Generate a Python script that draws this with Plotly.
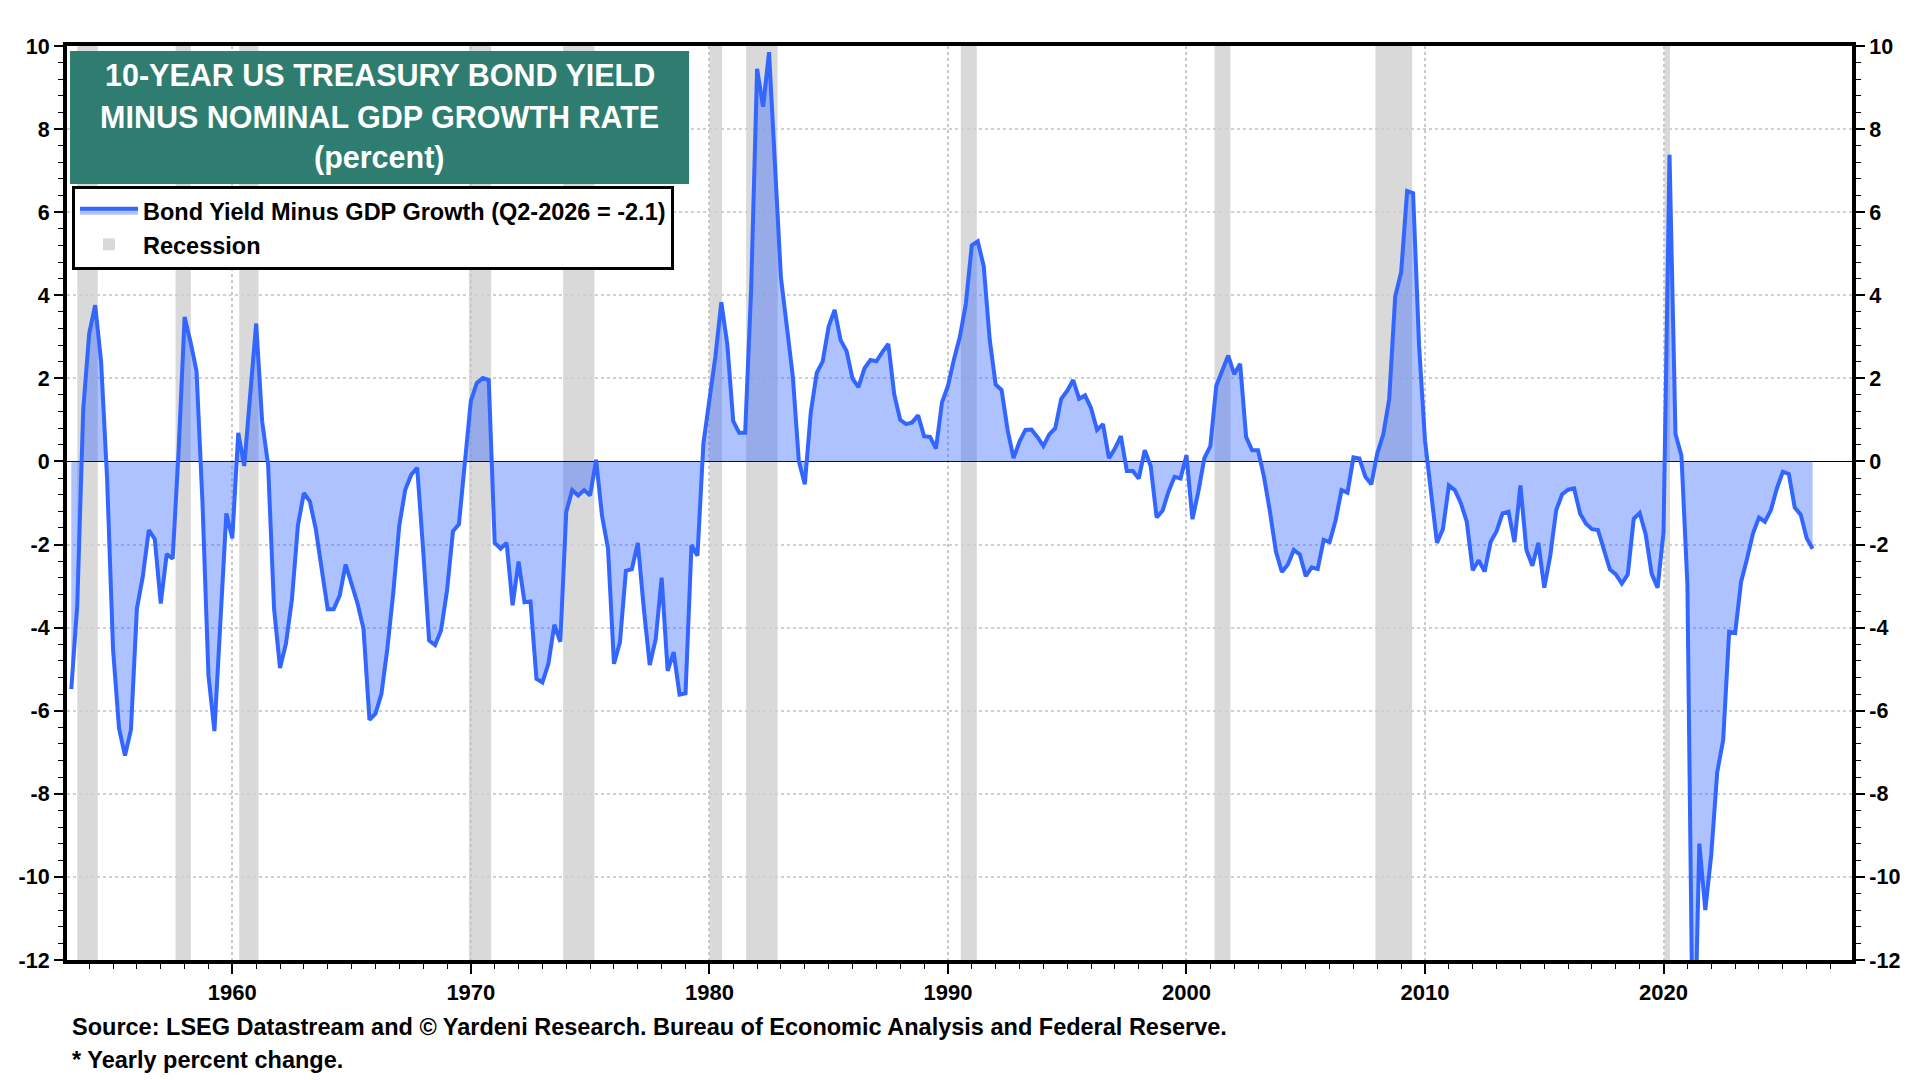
import numpy as np
import pandas as pd
import plotly.graph_objects as go

# quarterly spread, 10-yr Treasury yield minus nominal GDP y/y growth
first_quarter = "1953Q2"
spread = [
    -5.48, -3.46, 1.25,            # 1953 Q2-Q4
    3.08, 3.76, 2.40, -0.40,       # 1954
    -4.52, -6.42, -7.08, -6.46,    # 1955
    -3.54, -2.76, -1.65, -1.87,    # 1956
    -3.42, -2.23, -2.34, 0.27,     # 1957
    3.48, 2.87, 2.17, -1.00,       # 1958
    -5.15, -6.49, -3.82, -1.25,    # 1959
    -1.85, 0.69, -0.11, 1.54,      # 1960
    3.32, 0.97, -0.08, -3.54,      # 1961
    -4.97, -4.38, -3.32, -1.54,    # 1962
    -0.76, -0.96, -1.63, -2.60,    # 1963
    -3.56, -3.56, -3.23, -2.48,    # 1964
    -2.97, -3.42, -4.03, -6.22,    # 1965
    -6.07, -5.60, -4.50, -3.15,    # 1966
    -1.54, -0.68, -0.32, -0.15,    # 1967
    -2.13, -4.31, -4.42, -4.07,    # 1968
    -3.11, -1.68, -1.51, 0.00,     # 1969
    1.46, 1.89, 2.01, 1.96,        # 1970
    -1.96, -2.10, -1.96, -3.46,    # 1971
    -2.41, -3.39, -3.37, -5.23,    # 1972
    -5.32, -4.87, -3.93, -4.34,    # 1973
    -1.21, -0.69, -0.82, -0.69,    # 1974
    -0.82, 0.04, -1.31, -2.10,     # 1975
    -4.87, -4.35, -2.63, -2.59,    # 1976
    -1.96, -3.54, -4.90, -4.27,    # 1977
    -2.80, -5.04, -4.59, -5.61,    # 1978
    -5.58, -2.01, -2.27, 0.44,     # 1979
    1.54, 2.52, 3.83, 2.82,        # 1980
    0.97, 0.69, 0.69, 4.14,        # 1981
    9.45, 8.54, 9.85, 7.03,        # 1982
    4.42, 3.23, 2.03, 0.01,        # 1983
    -0.55, 1.18, 2.13, 2.41,       # 1984
    3.25, 3.65, 2.92, 2.66,        # 1985
    1.99, 1.79, 2.24, 2.44,        # 1986
    2.41, 2.63, 2.83, 1.61,        # 1987
    1.00, 0.90, 0.94, 1.11,        # 1988
    0.61, 0.59, 0.31, 1.42,        # 1989
    1.82, 2.45, 3.00, 3.79,        # 1990
    5.20, 5.30, 4.70, 2.94,        # 1991
    1.85, 1.72, 0.76, 0.08,        # 1992
    0.48, 0.76, 0.77, 0.59,        # 1993
    0.37, 0.65, 0.80, 1.51,        # 1994
    1.70, 1.96, 1.51, 1.59,        # 1995
    1.28, 0.76, 0.90, 0.08,        # 1996
    0.31, 0.61, -0.23, -0.23,      # 1997
    -0.41, 0.27, -0.11, -1.35,     # 1998
    -1.18, -0.72, -0.37, -0.41,    # 1999
    0.15, -1.39, -0.72, 0.08,      # 2000
    0.37, 1.82, 2.20, 2.55,        # 2001
    2.10, 2.35, 0.59, 0.27,        # 2002
    0.27, -0.37, -1.21, -2.17,     # 2003
    -2.66, -2.48, -2.13, -2.24,    # 2004
    -2.76, -2.55, -2.59, -1.89,    # 2005
    -1.94, -1.42, -0.69, -0.75,    # 2006
    0.10, 0.07, -0.37, -0.55,      # 2007
    0.20, 0.65, 1.51, 3.97,        # 2008
    4.56, 6.51, 6.46, 2.80,        # 2009
    0.50, -0.80, -1.96, -1.63,     # 2010
    -0.58, -0.69, -1.00, -1.45,    # 2011
    -2.62, -2.38, -2.65, -1.94,    # 2012
    -1.68, -1.25, -1.21, -1.94,    # 2013
    -0.58, -2.13, -2.51, -1.96,    # 2014
    -3.04, -2.27, -1.17, -0.79,    # 2015
    -0.68, -0.65, -1.25, -1.50,    # 2016
    -1.63, -1.65, -2.10, -2.60,    # 2017
    -2.72, -2.94, -2.72, -1.38,    # 2018
    -1.24, -1.75, -2.70, -3.04,    # 2019
    -1.70, 7.38, 0.66, 0.14,       # 2020
    -2.97, -15.50, -9.20, -10.80,  # 2021
    -9.46, -7.48, -6.70, -4.10,    # 2022
    -4.13, -2.90, -2.34, -1.73,    # 2023
    -1.35, -1.45, -1.17, -0.65,    # 2024
    -0.25, -0.30, -1.11, -1.28,    # 2025
    -1.85, -2.10,                  # 2026 Q1-Q2
]

# NBER recessions, decimal years
rec_start = [1953.50, 1957.62, 1960.29, 1969.92, 1973.87, 1980.00, 1981.54, 1990.54, 2001.18, 2007.92, 2020.04]
rec_end = [1954.36, 1958.26, 1961.10, 1970.85, 1975.18, 1980.53, 1982.86, 1991.21, 2001.84, 2009.46, 2020.27]

decades = [1960, 1970, 1980, 1990, 2000, 2010, 2020]
y_ticks = list(range(-12, 11, 2))

quarters = pd.period_range(first_quarter, periods=len(spread), freq="Q")
x = np.array(quarters.year + (quarters.quarter - 1) / 4.0, dtype=float)

FONT = "Liberation Sans, Arial, sans-serif"
BLUE = "#3366FF"

fig = go.Figure()

fig.add_trace(go.Scatter(
    x=x, y=spread,
    mode="lines",
    line=dict(color=BLUE, width=4),
    fill="tozeroy",
    fillcolor="rgba(51,102,255,0.40)",
    name="<b>Bond Yield Minus GDP Growth (Q2-2026 = -2.1)</b>",
))
# dummy trace so the right-hand axis is drawn
fig.add_trace(go.Scatter(
    x=[x[0]], y=[spread[0]], yaxis="y2", mode="markers",
    marker=dict(opacity=0), showlegend=False, hoverinfo="skip",
))

for i, (s, e) in enumerate(zip(rec_start, rec_end)):
    fig.add_shape(
        type="rect", xref="x", yref="paper", x0=s, x1=e, y0=0, y1=1,
        fillcolor="#D9D9D9", line=dict(width=0), layer="below",
        showlegend=(i == 0), name="<b>Recession</b>",
    )

# title box
fig.add_shape(type="rect", xref="paper", yref="paper",
              x0=0.0017, x1=0.3485, y0=0.849, y1=0.9945,
              fillcolor="#2E7D70", line=dict(width=0), layer="above")
title_lines = ["10-YEAR US TREASURY BOND YIELD", "MINUS NOMINAL GDP GROWTH RATE", "(percent)"]
for line, yy in zip(title_lines, [0.9683, 0.9218, 0.8775]):
    fig.add_annotation(xref="paper", yref="paper", x=0.1751, y=yy,
                       text="<b>" + line + "</b>", showarrow=False,
                       font=dict(family=FONT, size=30.5, color="white"),
                       xanchor="center", yanchor="middle")

fig.add_annotation(xref="paper", yref="paper", x=0.0017, y=-0.0733,
                   text="<b>Source: LSEG Datastream and © Yardeni Research. Bureau of Economic Analysis and Federal Reserve.</b>",
                   showarrow=False, xanchor="left", yanchor="middle",
                   font=dict(family=FONT, size=23.5, color="black"))
fig.add_annotation(xref="paper", yref="paper", x=0.0017, y=-0.1094,
                   text="<b>* Yearly percent change.</b>",
                   showarrow=False, xanchor="left", yanchor="middle",
                   font=dict(family=FONT, size=23.5, color="black"))

yaxis_common = dict(
    range=[-12, 10],
    tickvals=y_ticks,
    ticktext=[str(v) for v in y_ticks],
    tickfont=dict(family=FONT, size=21.5, color="black", weight="bold"),
    ticks="outside", ticklen=9, tickwidth=2, tickcolor="black",
    minor=dict(dtick=0.4, tick0=-12, ticks="outside", ticklen=5, tickwidth=1, tickcolor="black"),
    showline=True, linewidth=4, linecolor="black",
)

fig.update_layout(
    width=1920, height=1080,
    margin=dict(l=67, r=68, t=46, b=120),
    paper_bgcolor="white", plot_bgcolor="white",
    font=dict(family=FONT, color="black"),
    showlegend=True,
    legend=dict(
        x=0.0028, y=0.8468, xanchor="left", yanchor="top",
        bgcolor="white", bordercolor="black", borderwidth=3,
        font=dict(family=FONT, size=23.5, color="black"),
        itemwidth=58, tracegroupgap=0,
    ),
    xaxis=dict(
        range=[1953.07, 2027.9],
        tickvals=decades,
        ticktext=[str(d) for d in decades],
        tickfont=dict(family=FONT, size=22, color="black", weight="bold"),
        ticks="outside", ticklen=10, tickwidth=2, tickcolor="black",
        minor=dict(dtick=1, tick0=1950, ticks="outside", ticklen=5, tickwidth=1, tickcolor="black"),
        showgrid=True, gridcolor="#C8C8C8", gridwidth=2, griddash="dot",
        showline=True, linewidth=4, linecolor="black", mirror=True,
        zeroline=False,
    ),
    yaxis=dict(
        **yaxis_common,
        showgrid=True, gridcolor="#D0D0D0", gridwidth=2, griddash="dot",
        zeroline=True, zerolinecolor="black", zerolinewidth=1,
    ),
    yaxis2=dict(
        **yaxis_common,
        overlaying="y", side="right",
        showgrid=False, zeroline=False,
    ),
)

fig.write_html(
    "out.html",
    config={"displayModeBar": False},
    post_script="document.body.style.margin='0';document.body.style.overflow='hidden';",
)
